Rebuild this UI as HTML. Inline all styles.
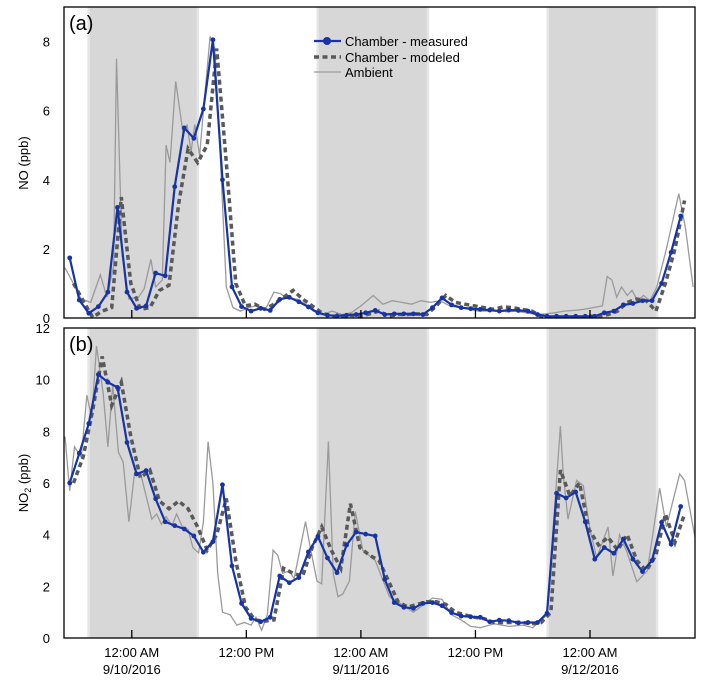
<!DOCTYPE html>
<html><head><meta charset="utf-8"><style>
html,body{margin:0;padding:0;background:#fff;}
svg{display:block;font-family:"Liberation Sans",Arial,sans-serif;}
</style></head><body>
<svg id="chart" width="703" height="683" viewBox="0 0 703 683"></svg>
<script>
// ---- data (hours relative to 12:00 AM 9/10/2016) ----
const nightStart = [-4.5, 19.5, 43.6];
const nightEnd = [6.9, 31.0, 55.0];
const xTickHours = [0, 12, 24, 36, 48];
const xTickLine1 = ["12:00 AM", "12:00 PM", "12:00 AM", "12:00 PM", "12:00 AM"];
const xTickLine2 = ["9/10/2016", "", "9/11/2016", "", "9/12/2016"];
const noTicks = [0, 2, 4, 6, 8];
const no2Ticks = [0, 2, 4, 6, 8, 10, 12];

const measStart = -6.5; // hourly measurements
const noMeasured = [1.74,0.52,0.14,0.33,0.75,3.2,0.75,0.28,0.35,1.3,1.22,3.8,5.5,5.2,6.05,8.05,4.0,0.9,0.33,0.2,0.28,0.22,0.54,0.6,0.47,0.32,0.15,0.08,0.06,0.08,0.1,0.15,0.22,0.1,0.12,0.12,0.12,0.1,0.3,0.58,0.38,0.3,0.27,0.25,0.23,0.2,0.23,0.22,0.2,0.1,0.05,0.05,0.05,0.05,0.05,0.05,0.15,0.2,0.38,0.42,0.5,0.5,1.0,1.9,2.95];
const noModeled = [1.0,0.5,0.02,0.2,0.3,3.5,1.0,0.25,0.3,0.8,0.95,3.3,4.9,4.5,5.0,7.8,4.5,1.0,0.35,0.4,0.25,0.4,0.6,0.8,0.55,0.35,0.15,0.05,0.05,0.08,0.05,0.12,0.2,0.05,0.1,0.1,0.12,0.1,0.35,0.65,0.45,0.4,0.35,0.3,0.25,0.32,0.3,0.25,0.2,0.05,0.0,0.0,0.0,0.0,0.05,0.05,0.1,0.2,0.45,0.55,0.5,0.2,1.0,2.0,3.4];
const noAmbT = [-7,-6.3,-5.3,-4.3,-3.3,-2.6,-1.9,-1.6,-1.0,-0.3,0.7,1.3,2.0,2.5,3.2,3.6,4.0,4.6,5.4,5.8,6.2,6.6,7.1,7.6,8.2,8.7,9.3,9.9,10.6,11.4,12.2,13.0,14.0,14.9,15.6,16.4,17.3,18.2,19.0,20,21,22,23,24,25.3,26.3,27.3,28.3,29.3,30.3,31.3,32.3,33.3,34.3,35.3,36.3,37.3,38.3,39.3,40.3,41.3,42.3,43.3,44.3,45.3,46.3,47.3,48.3,49.3,49.8,50.3,50.8,51.3,51.9,52.4,53.0,53.6,54.3,55.0,56.0,57.3,58.0,58.8];
const noAmbV = [1.45,1.1,0.55,0.45,1.25,0.6,1.5,7.5,1.8,0.55,0.6,0.85,1.7,0.9,1.1,5.0,4.5,6.85,5.3,5.6,4.8,5.6,4.7,6.3,8.15,7.8,4.5,0.9,0.3,0.2,0.3,0.35,0.25,0.75,0.7,0.55,0.55,0.4,0.2,0.1,0.2,0.1,0.15,0.35,0.65,0.4,0.5,0.45,0.4,0.5,0.45,0.5,0.35,0.3,0.25,0.2,0.2,0.22,0.18,0.2,0.15,0.1,0.12,0.15,0.2,0.22,0.25,0.3,0.35,1.2,1.1,0.6,0.9,0.65,0.8,0.5,0.65,0.5,0.9,2.0,3.6,2.6,0.9];

const no2Measured = [6.0,7.15,8.3,10.2,9.9,9.7,7.57,6.35,6.48,5.39,4.5,4.35,4.22,3.95,3.32,3.73,5.93,2.79,1.34,0.76,0.63,0.8,2.4,2.14,2.34,3.33,3.93,3.1,2.53,3.6,4.1,4.02,3.95,2.27,1.37,1.19,1.15,1.34,1.37,1.25,0.98,0.85,0.82,0.8,0.63,0.69,0.67,0.59,0.6,0.6,0.96,5.6,5.42,5.65,4.5,3.05,3.5,3.28,3.83,3.05,2.57,3.0,4.48,3.63,5.09];
const no2Modeled = [6.0,7.0,8.8,10.9,9.0,9.9,7.8,6.2,6.5,5.3,5.0,5.3,5.0,4.3,3.4,4.0,5.4,3.0,1.2,0.7,0.65,0.7,2.7,2.5,2.4,3.5,4.3,3.4,2.7,5.2,3.5,3.2,3.0,2.2,1.4,1.2,1.3,1.4,1.4,1.3,1.0,0.9,0.8,0.75,0.6,0.6,0.6,0.6,0.55,0.6,1.0,6.5,5.5,6.0,4.2,3.6,3.9,3.4,4.0,3.0,2.6,3.2,4.8,3.7,4.8];
const no2AmbT = [-7,-6.5,-6.0,-5.3,-4.7,-4.2,-3.7,-3.0,-2.5,-2.0,-1.4,-0.9,-0.3,0.3,0.9,1.5,2.1,2.6,3.1,3.6,4.2,4.7,5.3,5.9,6.4,7.0,7.5,8.0,8.5,9.0,9.5,10.3,11.0,11.8,12.5,13.0,13.6,14.2,14.8,15.3,15.8,16.5,17.0,17.6,18.2,18.7,19.4,19.9,20.6,21.1,21.6,22.1,22.8,23.4,24.2,25.5,27.0,28.3,29.5,31.5,32.5,33.5,34.5,35.5,36.5,38.0,39.5,41.0,42.0,43.5,44.9,45.2,45.7,46.6,47.3,48.0,48.7,49.9,50.4,51.1,51.9,52.9,54.0,55.3,56.0,57.4,57.9,59.0];
const no2AmbV = [7.8,5.7,7.4,7.0,9.4,8.5,11.3,9.5,7.4,9.8,7.2,6.8,4.5,6.4,6.4,5.5,4.6,4.8,4.4,4.7,4.35,4.8,4.3,4.2,3.5,3.3,4.5,7.6,6.0,2.5,1.0,0.9,0.5,0.6,0.5,0.8,0.3,0.9,3.4,3.2,2.5,2.6,2.3,3.4,4.5,3.5,2.2,2.1,7.6,2.5,1.6,1.7,2.2,4.9,3.4,3.0,1.6,1.3,1.0,1.55,1.5,0.9,0.7,0.45,0.4,0.55,0.45,0.5,0.4,0.9,8.2,6.3,4.6,6.1,5.9,4.2,3.1,4.3,2.4,4.0,3.3,2.18,2.6,5.8,4.3,6.35,6.1,3.9];

// ---- layout ----
const X0 = 64, X1 = 695;
const H0 = -7.1, H1 = 59.0;
const panels = [
  {name:"no", top:7, bottom:318, ymax:9, ticks:noTicks, label:"(a)", meas:noMeasured, mod:noModeled, ambT:noAmbT, ambV:noAmbV},
  {name:"no2", top:328, bottom:638, ymax:12, ticks:no2Ticks, label:"(b)", meas:no2Measured, mod:no2Modeled, ambT:no2AmbT, ambV:no2AmbV}
];
const NS = "http://www.w3.org/2000/svg";
const svg = document.getElementById('chart');
function mk(tag, attrs, parent){
  const e = document.createElementNS(NS, tag);
  for (const k in attrs) e.setAttribute(k, attrs[k]);
  (parent||svg).appendChild(e);
  return e;
}
function xs(h){ return X0 + (h - H0) / (H1 - H0) * (X1 - X0); }

panels.forEach((p, pi) => {
  const ys = v => p.bottom - v / p.ymax * (p.bottom - p.top);
  const g = mk('g', {});
  
  
  const clipId = 'clip' + pi;
  const cp = mk('clipPath', {id: clipId}, g);
  mk('rect', {x:X0, y:p.top, width:X1-X0, height:p.bottom-p.top}, cp);

  nightStart.forEach((s, i) => {
    const r = mk('rect', {x:xs(s)-1.5, y:p.top, width:xs(nightEnd[i])-xs(s)+3, height:p.bottom-p.top, fill:'#e6e6e6'}, g);
    
    
    const r2 = mk('rect', {x:xs(s)+1, y:p.top, width:xs(nightEnd[i])-xs(s)-2, height:p.bottom-p.top, fill:'#d7d7d7'}, g);
    
    
  });

  const dg = mk('g', {'clip-path':'url(#' + clipId + ')'}, g);
  let d = p.ambT.map((t, i) => (i ? 'L' : 'M') + xs(t).toFixed(1) + ',' + ys(p.ambV[i]).toFixed(1)).join('');
  const amb = mk('path', {d:d, fill:'none', stroke:'#9a9a9a', 'stroke-width':1.3}, dg);
  
  
  d = p.mod.map((v, i) => (i ? 'L' : 'M') + xs(measStart + i + 0.4).toFixed(1) + ',' + ys(v).toFixed(1)).join('');
  const mod = mk('path', {d:d, fill:'none', stroke:'#595959', 'stroke-width':3.5, 'stroke-dasharray':'5,3.5'}, dg);
  
  
  d = p.meas.map((v, i) => (i ? 'L' : 'M') + xs(measStart + i).toFixed(1) + ',' + ys(v).toFixed(1)).join('');
  const meas = mk('path', {d:d, fill:'none', stroke:'#1634a6', 'stroke-width':2.2}, dg);
  
  
  p.meas.forEach((v, i) => {
    const c = mk('circle', {cx:xs(measStart + i), cy:ys(v), r:2.4, fill:'#1634a6'}, dg);
    
    
  });

  const fr = mk('rect', {x:X0, y:p.top, width:X1-X0, height:p.bottom-p.top, fill:'none', stroke:'#000', 'stroke-width':1.3}, g);
  
  

  p.ticks.forEach(t => {
    const tx = mk('text', {x:X0-14, y:ys(t)+5, 'text-anchor':'end', 'font-size':13, fill:'#000'}, g);
    tx.textContent = t;
    
    
  });
  xTickHours.forEach(h => {
    const tl = mk('line', {x1:xs(h), x2:xs(h), y1:p.bottom, y2:p.bottom-8, stroke:'#000', 'stroke-width':1.3}, g);
    
    
  });
  const lb = mk('text', {x:X0+5, y:p.top+23, 'font-size':20, fill:'#000'}, g);
  lb.textContent = p.label;
  
  
});

xTickHours.forEach((h, i) => {
  const t1 = mk('text', {x:xs(h), y:657, 'text-anchor':'middle', 'font-size':13, fill:'#000'});
  t1.textContent = xTickLine1[i];
  
  
  if (xTickLine2[i]) {
    const t2 = mk('text', {x:xs(h), y:674, 'text-anchor':'middle', 'font-size':13, fill:'#000'});
    t2.textContent = xTickLine2[i];
    
    
  }
});
</script>
<script>
(function(){
  const NS = "http://www.w3.org/2000/svg";
  const svg = document.getElementById('chart');
  const t1 = document.createElementNS(NS, 'text');
  t1.setAttribute('transform', 'translate(28,163) rotate(-90)');
  t1.setAttribute('text-anchor', 'middle'); t1.setAttribute('font-size', '13');
  t1.textContent = 'NO (ppb)';
  
  
  svg.appendChild(t1);
  const t2 = document.createElementNS(NS, 'text');
  t2.setAttribute('transform', 'translate(28,483) rotate(-90)');
  t2.setAttribute('text-anchor', 'middle'); t2.setAttribute('font-size', '13');
  t2.innerHTML = 'NO<tspan font-size="9" dy="3">2</tspan><tspan dy="-3"> (ppb)</tspan>';
  
  
  svg.appendChild(t2);
  const lg = document.createElementNS(NS, 'g');
  
  
  lg.innerHTML =
   '<line x1="314" x2="341" y1="41" y2="41" stroke="#1634a6" stroke-width="2.2"/><circle cx="327" cy="41" r="4" fill="#1634a6"/>' +
   '<text x="345" y="46" font-size="13">Chamber - measured</text>' +
   '<line x1="314" x2="341" y1="57" y2="57" stroke="#595959" stroke-width="3.5" stroke-dasharray="5,3.5"/>' +
   '<text x="345" y="62" font-size="13">Chamber - modeled</text>' +
   '<line x1="314" x2="341" y1="72" y2="72" stroke="#9a9a9a" stroke-width="1.3"/>' +
   '<text x="345" y="77" font-size="13">Ambient</text>';
  svg.appendChild(lg);
})();
</script>
</body></html>
